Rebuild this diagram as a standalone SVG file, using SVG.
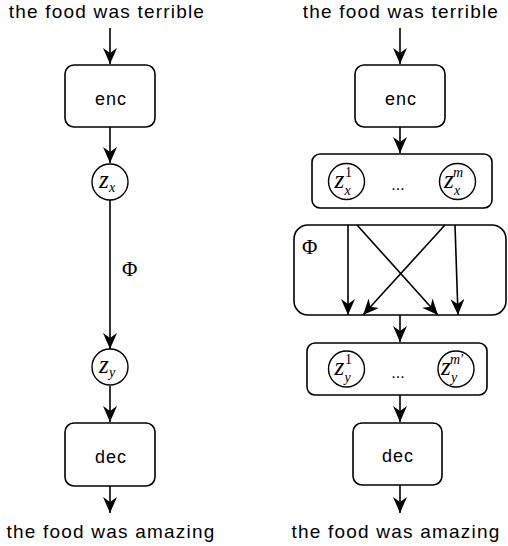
<svg xmlns="http://www.w3.org/2000/svg" width="508" height="546" viewBox="0 0 508 546">
<defs>
<marker id="arr" viewBox="0 0 16 14" refX="16" refY="7" markerWidth="16" markerHeight="14" markerUnits="userSpaceOnUse" orient="auto">
<path d="M0,0 L16,7 L0,14 L5,7 Z" fill="#000"/>
</marker>
<style>
.box{fill:#fff;stroke:#000;stroke-width:1.6}
.circ{fill:#fff;stroke:#000;stroke-width:1.4}
.edge{fill:none;stroke:#000;stroke-width:1.6;marker-end:url(#arr)}
.lbl{font-family:"Liberation Sans",Arial,sans-serif;font-size:18px;letter-spacing:1px;fill:#000;text-anchor:middle}
.big{font-family:"Liberation Sans",Arial,sans-serif;font-size:19px;letter-spacing:1.2px;fill:#000;text-anchor:middle}
.m{font-family:"Liberation Serif","DejaVu Serif",serif;font-style:italic;fill:#000}
.z{font-size:25px}
.s{font-size:14px}
.up{font-style:normal}
.phi{font-family:"Liberation Serif","DejaVu Serif",serif;font-size:21px;fill:#000}
.dots{font-family:"Liberation Sans",Arial,sans-serif;font-size:16px;fill:#000;text-anchor:middle}
</style>
</defs>
<rect width="508" height="546" fill="#fff"/>

<g id="edges">
<line class="edge" x1="110" y1="28" x2="110" y2="64"/>
<line class="edge" x1="110" y1="127" x2="110" y2="163"/>
<line class="edge" x1="110" y1="200" x2="110" y2="349"/>
<line class="edge" x1="110" y1="386" x2="110" y2="422"/>
<line class="edge" x1="110" y1="486" x2="110" y2="513"/>
<line class="edge" x1="400" y1="28" x2="400" y2="64"/>
<line class="edge" x1="400" y1="127" x2="400" y2="153"/>
<line class="edge" x1="348" y1="225" x2="348" y2="315"/>
<line class="edge" x1="357" y1="225" x2="438" y2="315"/>
<line class="edge" x1="445" y1="225" x2="363" y2="315"/>
<line class="edge" x1="455" y1="225" x2="458" y2="315"/>
<line class="edge" x1="400" y1="315" x2="400" y2="342"/>
<line class="edge" x1="400" y1="395" x2="400" y2="422"/>
<line class="edge" x1="400" y1="485" x2="400" y2="513"/>
</g>

<g id="title-left"><text class="big" x="107" y="18">the food was terrible</text></g>
<g id="title-right"><text class="big" x="401" y="18">the food was terrible</text></g>
<g id="out-left"><text class="big" x="111" y="538">the food was amazing</text></g>
<g id="out-right"><text class="big" x="396" y="538">the food was amazing</text></g>

<g id="enc-left"><rect class="box" x="65" y="65" width="90" height="62" rx="9"/><text class="lbl" x="111" y="105">enc</text></g>
<g id="zx-left"><circle class="circ" cx="110" cy="182" r="18"/>
<text class="m"><tspan class="z" x="99" y="188">z</tspan><tspan class="s" x="109" y="192">x</tspan></text></g>
<g id="phi-left"><text class="phi" x="122" y="276">Φ</text></g>
<g id="zy-left"><circle class="circ" cx="110" cy="367" r="18"/>
<text class="m"><tspan class="z" x="99" y="373">z</tspan><tspan class="s" x="109" y="377">y</tspan></text></g>
<g id="dec-left"><rect class="box" x="65" y="423" width="90" height="63" rx="9"/><text class="lbl" x="111" y="463">dec</text></g>

<g id="enc-right"><rect class="box" x="355" y="65" width="90" height="62" rx="9"/><text class="lbl" x="401" y="105">enc</text></g>
<g id="zx-right"><rect class="box" x="312" y="154" width="180" height="54" rx="8"/>
<circle class="circ" cx="346.5" cy="181.5" r="18"/>
<text class="m z" x="334.5" y="188">z</text>
<text class="m s up" x="345" y="177">1</text>
<text class="m s" x="344.5" y="195">x</text>
<text class="dots" x="398" y="190">...</text>
<circle class="circ" cx="457.5" cy="181.5" r="18"/>
<text class="m z" x="444" y="188">z</text>
<text class="m s" x="453" y="177">m</text>
<text class="m s" x="454" y="195">x</text>
</g>
<g id="phi-right"><rect class="box" x="294" y="225" width="212" height="90" rx="14" style="fill:none"/>
<text class="phi" x="302" y="254">Φ</text></g>
<g id="zy-right"><rect class="box" x="307" y="343" width="180" height="52" rx="8"/>
<circle class="circ" cx="346.5" cy="369" r="18"/>
<text class="m z" x="334.5" y="375">z</text>
<text class="m s up" x="345" y="364">1</text>
<text class="m s" x="344.5" y="382">y</text>
<text class="dots" x="398" y="378">...</text>
<circle class="circ" cx="456" cy="369" r="18"/>
<text class="m z" x="441" y="375">z</text>
<text class="m s" x="450" y="364">m′</text>
<text class="m s" x="451" y="382">y</text>
</g>
<g id="dec-right"><rect class="box" x="353" y="423" width="89" height="62" rx="9"/><text class="lbl" x="398" y="462">dec</text></g>
</svg>
